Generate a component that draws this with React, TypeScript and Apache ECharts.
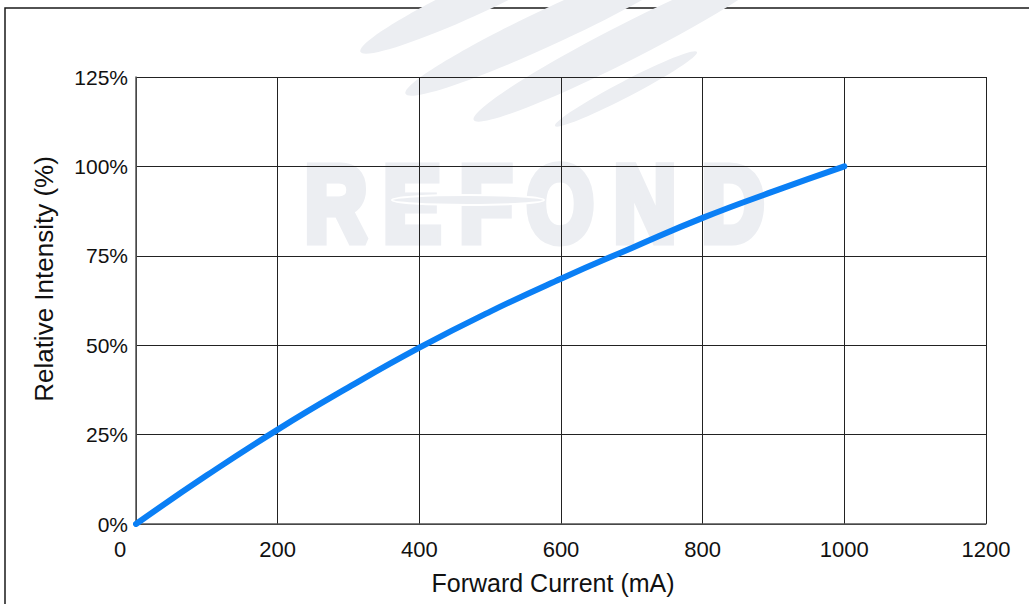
import React, { useEffect, useRef } from "react";
import * as echarts from "echarts";

const currentMA: number[] = [0, 100, 200, 300, 400, 500, 600, 700, 800, 900, 1000];
const intensityPct: number[] = [0, 13.6, 26.4, 38.2, 49.3, 59.4, 68.6, 77.2, 85.6, 93.0, 100];
const xTicks: number[] = [0, 200, 400, 600, 800, 1000, 1200];
const yTicks: number[] = [0, 25, 50, 75, 100, 125];
const xName = "Forward Current (mA)";
const yName = "Relative Intensity (%)";
const watermarkLetters: string[] = ["R", "E", "F", "O", "N", "D"];
const watermarkCenters: number[] = [336, 412, 486, 560, 645, 733];

const FONT = "'Liberation Sans', Arial, sans-serif";
const WM = "#eceef2";

export default function App() {
  const ref = useRef<HTMLDivElement>(null);
  useEffect(() => {
    if (!ref.current) return;
    const chart = echarts.init(ref.current, undefined, { renderer: "svg" });
    const deg = Math.PI / 180;
    const streaks = [
      { cx: 480, cy: -4, rx: 132, ry: 16, a: 25 },
      { cx: 555, cy: 24, rx: 165, ry: 18, a: 25 },
      { cx: 627, cy: 42, rx: 172, ry: 18, a: 27 },
      { cx: 626, cy: 89, rx: 80, ry: 8, a: 27.5 },
    ];
    const option: any = {
      animation: false,
      backgroundColor: "#ffffff",
      textStyle: { fontFamily: FONT },
      graphic: [
        {
          type: "rect",
          z: -20,
          silent: true,
          shape: { x: 5, y: 8, width: 1100, height: 700 },
          style: { fill: "none", stroke: "#1a1a1a", lineWidth: 1.5 },
        },
        {
          type: "group",
          z: -10,
          silent: true,
          children: [
            ...streaks.map((s) => ({
              type: "ellipse",
              x: s.cx,
              y: s.cy,
              rotation: s.a * deg,
              shape: { cx: 0, cy: 0, rx: s.rx, ry: s.ry },
              style: { fill: WM },
            })),
            ...watermarkLetters.map((ch, i) => ({
              type: "text",
              x: watermarkCenters[i],
              y: 203,
              scaleX: 0.8,
              style: {
                text: ch,
                fill: WM,
                stroke: WM,
                lineWidth: 9,
                font: "bold 108px Liberation Sans",
                textAlign: "center",
                textVerticalAlign: "middle",
              },
            })),
            {
              type: "ellipse",
              x: 468,
              y: 200,
              shape: { cx: 0, cy: 0, rx: 76, ry: 5 },
              style: { fill: WM, stroke: "#ffffff", lineWidth: 2 },
            },
          ],
        },
        {
          type: "text",
          x: 44,
          y: 279,
          rotation: 90 * deg,
          silent: true,
          style: {
            text: yName,
            fill: "#111",
            fontSize: 26,
            fontFamily: "Liberation Sans",
            textAlign: "center",
            textVerticalAlign: "middle",
          },
        },
      ],
      grid: { left: 136, top: 77, right: 43, bottom: 80, containLabel: false },
      xAxis: {
        type: "value",
        min: xTicks[0],
        max: xTicks[xTicks.length - 1],
        interval: xTicks[1] - xTicks[0],
        name: xName,
        nameLocation: "middle",
        nameGap: 46,
        nameTextStyle: { fontSize: 25, color: "#111", fontFamily: FONT, padding: [0, 16, 0, 0] },
        axisLine: { show: true, lineStyle: { color: "#555", width: 1.5 } },
        axisTick: { show: false },
        splitLine: { show: true, lineStyle: { color: "#222", width: 1 } },
        axisLabel: {
          margin: 14,
          fontSize: 22,
          color: "#111",
          fontFamily: FONT,
          formatter: (v: number) => (v === 0 ? "{z|0}" : String(v)),
          rich: { z: { fontSize: 22, color: "#111", fontFamily: FONT, padding: [0, 32, 0, 0] } },
        },
      },
      yAxis: {
        type: "value",
        min: yTicks[0],
        max: yTicks[yTicks.length - 1],
        interval: yTicks[1] - yTicks[0],
        axisLine: { show: true, lineStyle: { color: "#555", width: 1.5 } },
        axisTick: { show: false },
        splitLine: { show: true, lineStyle: { color: "#222", width: 1 } },
        axisLabel: {
          margin: 8,
          fontSize: 21,
          color: "#111",
          fontFamily: FONT,
          formatter: "{value}%",
        },
      },
      series: [
        {
          type: "line",
          data: currentMA.map((x, i) => [x, intensityPct[i]]),
          smooth: true,
          showSymbol: false,
          lineStyle: { color: "#0a7ff5", width: 6, cap: "round" },
          z: 5,
        },
      ],
    };
    chart.setOption(option);
    return () => chart.dispose();
  }, []);
  return (
    <div
      ref={ref}
      style={{ position: "fixed", left: 0, top: 0, width: 1029, height: 604, background: "#fff" }}
    />
  );
}
